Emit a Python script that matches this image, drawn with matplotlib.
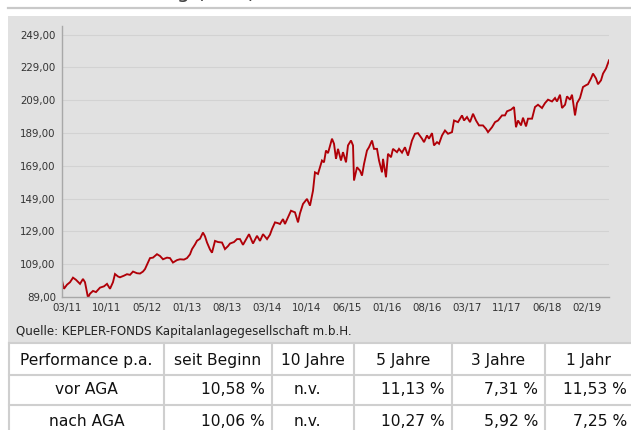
import matplotlib
matplotlib.use("Agg")
import matplotlib.pyplot as plt
from matplotlib.patches import Rectangle
from matplotlib.lines import Line2D
import numpy as np

# ---------------- data ----------------
# time in months since Jan 2011 (03/11 tick = month 2)
months = [1.09, 1.45, 2.00, 2.55, 3.10, 3.64, 4.38, 4.92, 5.29, 5.84, 6.20, 6.75, 7.30, 8.03,
          8.76, 9.31, 9.86, 10.40, 10.77, 11.32, 11.68, 12.41, 12.96, 13.51, 14.06, 14.79,
          15.34, 15.88, 16.25, 16.80, 17.16, 17.71, 18.44, 18.99, 19.54, 20.27, 20.82, 21.36,
          22.10, 22.64, 23.37, 23.92, 24.47, 24.84, 25.38, 25.75, 26.30, 26.84, 27.21, 27.58,
          28.12, 28.49, 29.04, 29.59, 30.32, 30.86, 31.41, 31.78, 32.51, 33.06, 33.60, 34.15,
          34.70, 35.25, 35.98, 36.71, 37.26, 37.81, 38.54, 39.08, 39.45, 40.00, 40.55, 40.91,
          41.46, 41.82, 42.37, 42.92, 43.65, 44.20, 44.56, 45.11, 45.84, 46.39, 46.94, 47.30,
          47.85, 48.58, 48.95, 49.31, 49.68, 50.04, 50.41, 50.78, 51.14, 51.51, 52.05, 52.42,
          52.97, 53.33, 53.88, 54.25, 54.43, 54.98, 55.53, 55.89, 56.26, 56.80, 57.17, 57.72,
          58.08, 58.63, 59.00, 59.54, 59.73, 60.27, 60.64, 61.19, 61.55, 62.28, 62.65, 63.20,
          63.74, 64.29, 65.02, 65.57, 66.12, 66.85, 67.22, 67.76, 68.13, 68.68, 69.04, 69.59,
          69.96, 70.51, 71.05, 71.60, 72.33, 72.70, 73.43, 74.16, 74.53, 75.07, 75.62, 76.17,
          76.72, 77.26, 77.99, 78.54, 78.91, 79.64, 80.19, 80.74, 81.47, 82.01, 82.38, 83.11,
          83.66, 84.02, 84.39, 84.94, 85.30, 85.85, 86.21, 86.95, 87.49, 88.04, 88.77, 89.32,
          89.87, 90.60, 91.15, 91.51, 92.06, 92.43, 92.98, 93.34, 93.89, 94.25, 94.44, 94.80,
          95.17, 95.71, 96.26, 96.81, 97.17, 97.72, 98.09, 98.64, 99.00, 99.55, 99.92, 100.47,
          101.01]
prices = [99.0, 94.0, 96.5, 98.0, 100.8, 99.5, 97.0, 100.0, 98.0, 88.6, 91.0, 92.7, 92.0, 94.7,
          95.5, 97.0, 94.0, 98.0, 103.0, 101.5, 101.0, 102.0, 102.9, 102.5, 104.5, 103.5,
          103.3, 104.5, 106.0, 110.0, 112.7, 113.0, 115.1, 114.0, 112.0, 113.0, 112.7, 110.0,
          111.5, 112.0, 111.8, 112.7, 115.0, 118.2, 121.0, 123.3, 124.5, 128.3, 126.0, 122.2,
          118.0, 116.0, 123.2, 122.5, 122.2, 118.2, 120.0, 121.6, 122.5, 124.3, 124.3, 120.8,
          124.0, 127.3, 121.6, 126.3, 123.2, 127.3, 124.3, 127.0, 130.4, 134.5, 134.0, 133.5,
          136.5, 133.5, 137.5, 141.6, 140.6, 134.5, 140.0, 145.7, 148.8, 144.7, 153.8, 165.0,
          164.0, 172.2, 171.1, 178.3, 176.7, 181.0, 185.5, 182.4, 173.2, 179.3, 172.2, 177.3,
          171.1, 181.4, 184.4, 181.4, 160.0, 168.1, 166.0, 163.0, 170.1, 178.3, 180.3, 184.4,
          179.3, 179.3, 172.2, 165.0, 173.2, 162.0, 176.3, 174.2, 179.3, 177.3, 179.3, 177.0,
          180.3, 175.2, 184.4, 188.5, 188.9, 185.5, 183.4, 187.5, 185.5, 188.9, 181.4, 183.4,
          182.4, 187.5, 190.5, 188.5, 189.5, 196.6, 195.6, 199.7, 196.6, 198.7, 195.6, 200.7,
          196.6, 193.6, 193.6, 191.5, 189.5, 192.5, 195.6, 196.6, 199.7, 199.7, 202.2, 203.2,
          204.8, 192.5, 196.6, 193.6, 198.3, 193.0, 197.7, 197.7, 204.8, 206.2, 204.2, 207.2,
          209.3, 208.2, 210.3, 208.2, 212.3, 204.2, 206.2, 211.3, 209.3, 212.3, 208.2, 199.7,
          207.2, 210.3, 217.0, 218.1, 218.7, 222.2, 225.2, 222.2, 218.7, 221.1, 225.2, 228.3,
          233.3]

x_tick_labels = ["03/11", "10/11", "05/12", "01/13", "08/13", "03/14", "10/14",
                 "06/15", "01/16", "08/16", "03/17", "11/17", "06/18", "02/19"]
y_ticks = [89, 109, 129, 149, 169, 189, 209, 229, 249]

title_text = "Wertentwicklung (EUR)"
source_text = "Quelle: KEPLER-FONDS Kapitalanlagegesellschaft m.b.H."

table_header = ["Performance p.a.", "seit Beginn", "10 Jahre", "5 Jahre", "3 Jahre", "1 Jahr"]
row_labels = ["vor AGA", "nach AGA"]
vor_aga = ["10,58 %", "n.v.", "11,13 %", "7,31 %", "11,53 %"]
nach_aga = ["10,06 %", "n.v.", "10,27 %", "5,92 %", "7,25 %"]

# ---------------- figure ----------------
W, H = 631, 430
fig = plt.figure(figsize=(W / 100, H / 100), dpi=100)
fig.patch.set_facecolor("white")

def fx(px):
    return px / W

def fy(py):
    return 1 - py / H

# overlay axes in pixel coordinates (y downward)
ov = fig.add_axes([0, 0, 1, 1], zorder=0)
ov.set_xlim(0, W)
ov.set_ylim(H, 0)
ov.axis("off")

panel_color = "#e1e1e1"
grid_color = "#d2d2d2"
text_color = "#333333"
line_color = "#b00008"
border_color = "#cfcfcf"

# cut-off title (as in the reference screenshot) and rule
ov.text(15, -1.5, title_text, fontsize=15, color="#444444", va="baseline", ha="left")
ov.add_line(Line2D([8, W], [7.5, 7.5], color="#c9c9c9", lw=1.6))
# grey panel
ov.add_patch(Rectangle((8, 16), W - 8, 343 - 16, facecolor=panel_color, edgecolor="none"))
# source text
ov.text(16, 331, source_text, fontsize=8.6, color="#222222", va="center", ha="left")

# ---------------- chart ----------------
left, right, top, bottom = 62, 609, 26, 297
ax = fig.add_axes([fx(left), fy(bottom), fx(right - left), (bottom - top) / H], zorder=2)
ax.set_facecolor("none")
ax.plot(months, prices, color=line_color, lw=1.35, solid_joinstyle="miter")
ax.set_xlim(months[0], months[-1])
ax.set_ylim(89, 254.2)
ax.set_yticks(y_ticks)
ax.set_yticklabels([f"{v:.2f}".replace(".", ",") for v in y_ticks])
tick_pos = np.linspace(2, 97, len(x_tick_labels))
ax.set_xticks(tick_pos)
ax.set_xticklabels(x_tick_labels)
ax.tick_params(axis="both", length=0, labelsize=7.4, colors=text_color)
ax.tick_params(axis="y", pad=4.5)
ax.tick_params(axis="x", pad=4.5)
ax.grid(axis="y", color=grid_color, lw=0.8)
ax.set_axisbelow(True)
for s in ["top", "right"]:
    ax.spines[s].set_visible(False)
for s in ["left", "bottom"]:
    ax.spines[s].set_color("#a8a8a8")
    ax.spines[s].set_linewidth(1.0)

# ---------------- table ----------------
col_edges = [9, 164, 272, 354, 452, 545, 640]
row_edges = [343, 375, 405, 437]
for yv in row_edges:
    ov.add_line(Line2D([col_edges[0], W], [yv, yv], color=border_color, lw=1.5))
for xv in col_edges[:-1]:
    ov.add_line(Line2D([xv, xv], [row_edges[0], H], color=border_color, lw=1.5))

fs_tab = 11.2
for i, txt in enumerate(table_header):
    cx = (col_edges[i] + col_edges[i + 1]) / 2 if i < 5 else 588
    ov.text(cx, (row_edges[0] + row_edges[1]) / 2 + 1, txt, fontsize=fs_tab,
            color="#111111", ha="center", va="center")
for r, (lab, vals) in enumerate(zip(row_labels, [vor_aga, nach_aga])):
    cy = (row_edges[r + 1] + row_edges[r + 2]) / 2
    ov.text((col_edges[0] + col_edges[1]) / 2, cy, lab, fontsize=fs_tab,
            color="#111111", ha="center", va="center")
    for j, v in enumerate(vals):
        c0, c1 = col_edges[j + 1], col_edges[j + 2]
        if v == "n.v.":
            ov.text((c0 + c1) / 2 - 6, cy, v, fontsize=fs_tab, color="#111111",
                    ha="center", va="center")
        else:
            rx = min(c1, W) - 7 if j < 4 else W - 4
            ov.text(rx, cy, v, fontsize=fs_tab, color="#111111", ha="right", va="center")

fig.savefig("out.png", dpi=100, facecolor="white")
